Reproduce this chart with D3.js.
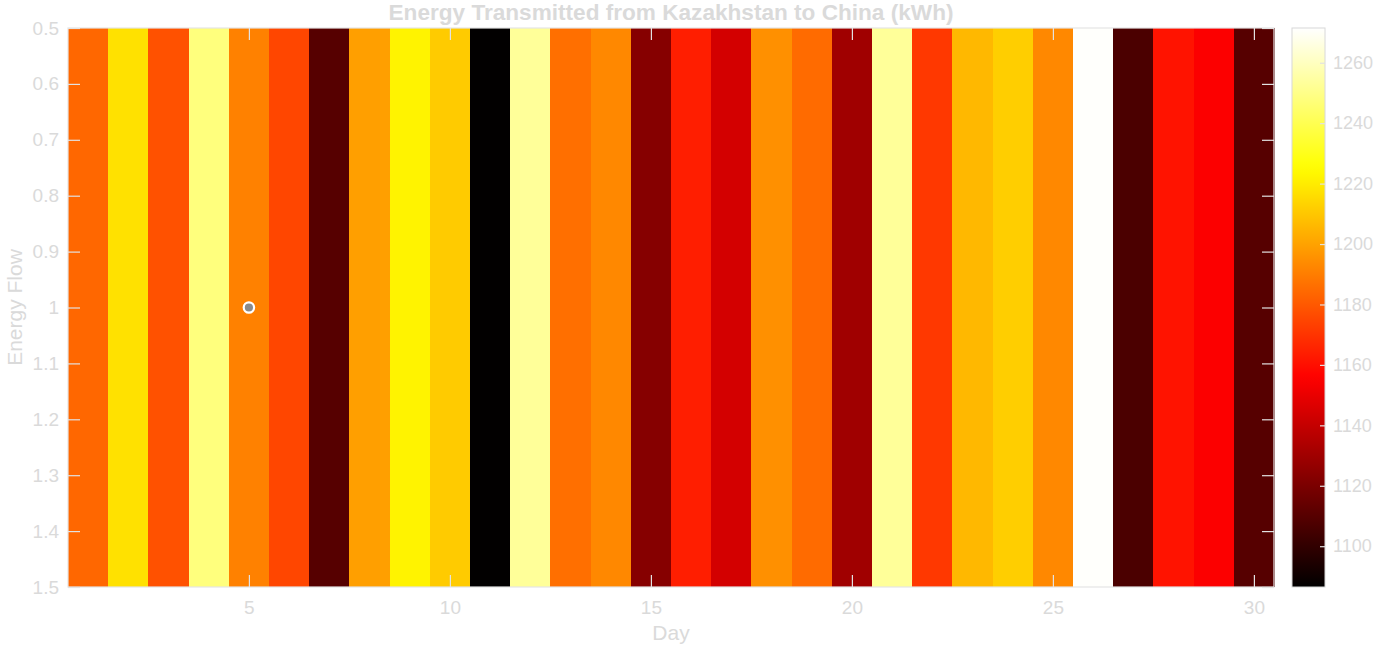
<!DOCTYPE html>
<html>
<head>
<meta charset="utf-8">
<script src="https://cdn.jsdelivr.net/npm/d3@7"></script>
<style>
  body { margin: 0; background: #fff; }
  svg { display: block; font-family: "Liberation Sans", Arial, Helvetica, sans-serif; }
</style>
</head>
<body>
<svg width="1376" height="649"></svg>
<script>
// values
const days = d3.range(1, 31);
const energy = [1184, 1217, 1178, 1248, 1191, 1175, 1110, 1199, 1222, 1211,
                1087, 1253, 1186, 1193, 1123, 1164, 1144, 1195, 1185, 1130,
                1253, 1171, 1206, 1212, 1193, 1271, 1107, 1161, 1155, 1110];
const xTicks = [5, 10, 15, 20, 25, 30];
const yTicks = [0.5, 0.6, 0.7, 0.8, 0.9, 1, 1.1, 1.2, 1.3, 1.4, 1.5];
const cTicks = [1100, 1120, 1140, 1160, 1180, 1200, 1220, 1240, 1260];
const marker = {day: 5, flow: 1};

const svg = d3.select("svg");
const textColor = "#dadada";
const plot = {left: 68, right: 1274, top: 28, bottom: 587};

const x = d3.scaleLinear().domain([0.5, 30.5]).range([plot.left, plot.right]);
const y = d3.scaleLinear().domain([0.5, 1.5]).range([plot.top, plot.bottom]);

// matlab style "hot" colormap
function hot(t) {
  t = Math.max(0, Math.min(1, t));
  const r = Math.min(1, t / 0.375);
  const g = Math.max(0, Math.min(1, (t - 0.375) / 0.375));
  const b = Math.max(0, Math.min(1, (t - 0.75) / 0.25));
  return d3.rgb(r * 255, g * 255, b * 255).toString();
}
const cmin = 1086.5, cmax = 1271.5;
const color = d3.scaleSequential(hot).domain([cmin, cmax]);

// stripes
svg.append("g").selectAll("rect")
    .data(days)
    .enter().append("rect")
    .attr("x", d => x(d - 0.5))
    .attr("width", d => x(d + 0.5) - x(d - 0.5) + 0.5)
    .attr("y", y(0.5))
    .attr("height", y(1.5) - y(0.5))
    .attr("fill", (d, i) => color(energy[i]))
    .attr("shape-rendering", "crispEdges");

// axes
function styleAxis(g) {
  g.select(".domain").remove();
  g.selectAll(".tick line").attr("stroke", "#e2e2e2").attr("stroke-width", 1.2);
  g.selectAll(".tick text").attr("fill", textColor).attr("font-size", 19);
}

svg.append("g")
    .attr("transform", "translate(0," + plot.bottom + ")")
    .call(d3.axisBottom(x).tickValues(xTicks).tickSizeInner(-12).tickSizeOuter(0).tickPadding(14))
    .call(styleAxis);
svg.append("g")
    .attr("transform", "translate(0," + plot.top + ")")
    .call(d3.axisTop(x).tickValues(xTicks).tickSizeInner(-12).tickSizeOuter(0).tickFormat(""))
    .call(styleAxis);
svg.append("g")
    .attr("transform", "translate(" + plot.left + ",0)")
    .call(d3.axisLeft(y).tickValues(yTicks).tickSizeInner(-12).tickSizeOuter(0).tickPadding(9)
      .tickFormat(d3.format("~g")))
    .call(styleAxis);
svg.append("g")
    .attr("transform", "translate(" + plot.right + ",0)")
    .call(d3.axisRight(y).tickValues(yTicks).tickSizeInner(-12).tickSizeOuter(0).tickFormat(""))
    .call(styleAxis);

// box
svg.append("rect")
    .attr("x", plot.left).attr("y", plot.top)
    .attr("width", plot.right - plot.left).attr("height", plot.bottom - plot.top)
    .attr("fill", "none").attr("stroke", "#e4e4e4").attr("stroke-width", 1.2);

// marker
svg.append("circle")
    .attr("cx", x(marker.day)).attr("cy", y(marker.flow))
    .attr("r", 5.2)
    .attr("fill", "#8a8a8a")
    .attr("stroke", "#fff").attr("stroke-width", 2.2);

// colorbar
const cb = {left: 1292, right: 1325};
const cy = d3.scaleLinear().domain([cmin, cmax]).range([plot.bottom, plot.top]);
const grad = svg.append("defs").append("linearGradient")
    .attr("id", "hotgrad").attr("x1", 0).attr("y1", 1).attr("x2", 0).attr("y2", 0);
grad.selectAll("stop")
    .data(d3.range(0, 1.0001, 0.02))
    .enter().append("stop")
    .attr("offset", d => d)
    .attr("stop-color", d => hot(d));
svg.append("rect")
    .attr("x", cb.left).attr("y", plot.top)
    .attr("width", cb.right - cb.left).attr("height", plot.bottom - plot.top)
    .attr("fill", "url(#hotgrad)")
    .attr("stroke", "#d8d8d8").attr("stroke-width", 1);
const cbAxis = svg.append("g")
    .attr("transform", "translate(" + cb.right + ",0)")
    .call(d3.axisRight(cy).tickValues(cTicks).tickSizeInner(-5).tickSizeOuter(0).tickPadding(8)
      .tickFormat(d3.format("d")))
    .call(styleAxis);
cbAxis.selectAll(".tick text").attr("font-size", 18);

// labels
const midX = (plot.left + plot.right) / 2, midY = (plot.top + plot.bottom) / 2;
svg.append("text")
    .attr("x", midX).attr("y", 20)
    .attr("text-anchor", "middle")
    .attr("font-size", 22.6).attr("font-weight", "bold")
    .attr("fill", textColor)
    .text("Energy Transmitted from Kazakhstan to China (kWh)");
svg.append("text")
    .attr("x", midX).attr("y", 640)
    .attr("text-anchor", "middle")
    .attr("font-size", 21)
    .attr("fill", textColor)
    .text("Day");
svg.append("text")
    .attr("transform", "translate(22," + midY + ") rotate(-90)")
    .attr("text-anchor", "middle")
    .attr("font-size", 21)
    .attr("fill", textColor)
    .text("Energy Flow");
</script>
</body>
</html>
